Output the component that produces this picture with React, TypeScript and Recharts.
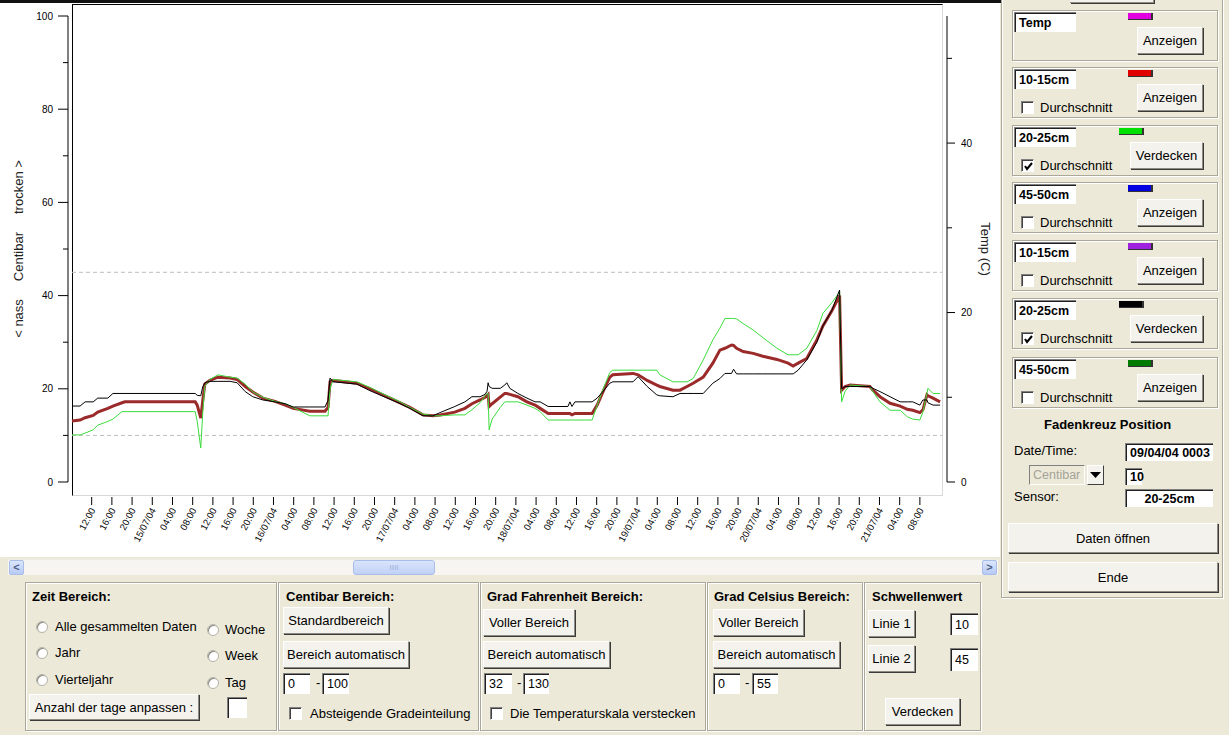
import React from 'react';
import { LineChart, Line, XAxis, YAxis, ReferenceLine } from 'recharts';

// ---------- data (hours since 14/07/04 00:00) ----------
const hours = [8.1, 9.7, 10.7, 12.3, 13.2, 15.2, 16.2, 18.0, 18.6, 32.5, 32.9, 33.6, 34.0, 34.4, 35.4, 37.0, 39.4, 40.8, 42.4, 43.9, 45.9, 48.3, 50.3, 51.9, 55.2, 58.2, 58.8, 59.2, 59.8, 64.5, 67.1, 70.1, 73.1, 75.0, 77.6, 79.6, 81.0, 83.9, 85.9, 87.3, 88.9, 89.9, 90.3, 90.5, 90.7, 91.3, 92.9, 93.8, 94.2, 94.8, 96.4, 98.2, 99.8, 100.8, 102.4, 106.3, 106.7, 107.1, 107.7, 111.1, 112.1, 113.3, 114.6, 115.2, 119.2, 120.2, 122.0, 123.9, 124.5, 127.1, 128.5, 129.9, 131.1, 133.1, 135.0, 136.4, 137.4, 138.7, 139.1, 139.7, 141.0, 143.0, 144.9, 147.7, 149.9, 150.9, 151.9, 153.6, 155.6, 156.8, 158.6, 160.1, 160.5, 161.2, 162.2, 166.1, 166.7, 168.1, 170.1, 172.1, 173.5, 174.6, 176.0, 176.6, 177.4, 177.6, 178.6, 180.0];
const sensorGreen = [10.1, 10.1, 10.5, 11.2, 12.2, 13.0, 13.5, 15.1, 15.1, 15.1, 13.0, 7.3, 15.0, 20.5, 22.0, 23.0, 22.5, 22.3, 21.0, 19.3, 18.2, 17.3, 16.8, 16.0, 14.2, 14.2, 14.2, 20.0, 22.0, 21.5, 20.3, 18.7, 17.2, 16.0, 14.6, 14.2, 14.2, 14.4, 14.4, 15.5, 17.0, 18.5, 19.0, 19.0, 11.2, 13.5, 16.0, 17.2, 17.2, 17.2, 17.2, 16.5, 15.8, 15.1, 13.3, 13.3, 13.3, 13.3, 13.3, 13.3, 16.5, 20.0, 23.5, 24.0, 24.0, 24.0, 24.0, 24.0, 23.0, 21.5, 21.5, 21.5, 22.2, 26.2, 30.5, 33.0, 35.1, 35.1, 35.1, 35.0, 34.0, 32.6, 31.0, 28.7, 27.3, 27.3, 27.3, 28.7, 32.5, 36.2, 38.5, 40.8, 17.2, 19.5, 20.8, 20.5, 19.4, 17.2, 15.4, 15.4, 14.0, 13.5, 13.3, 15.0, 19.0, 20.1, 19.0, 19.0];
const sensorBlack = [16.3, 16.3, 17.2, 17.2, 18.0, 18.0, 19.0, 19.0, 19.0, 19.0, 18.6, 18.5, 20.5, 21.3, 21.6, 21.6, 21.6, 21.3, 19.4, 18.3, 17.6, 17.2, 16.8, 16.1, 16.1, 16.1, 17.5, 22.3, 21.5, 21.0, 19.6, 18.2, 16.8, 15.8, 14.2, 14.2, 14.9, 16.2, 17.2, 18.3, 18.3, 18.8, 19.5, 21.3, 20.5, 20.1, 20.1, 20.8, 21.3, 20.1, 19.0, 18.0, 17.2, 17.2, 16.2, 16.2, 17.2, 16.2, 17.2, 17.2, 18.0, 19.5, 21.2, 21.5, 21.5, 22.6, 20.5, 18.7, 18.5, 18.3, 19.0, 19.0, 19.0, 19.0, 21.2, 22.2, 23.3, 23.3, 24.2, 23.2, 23.2, 23.2, 23.2, 23.2, 23.2, 23.2, 24.0, 26.2, 30.0, 33.5, 36.9, 41.2, 20.0, 20.5, 20.5, 20.5, 20.1, 19.4, 18.3, 17.2, 17.2, 17.2, 16.5, 17.6, 17.6, 17.0, 16.5, 16.5];
const average = [13.1, 13.3, 13.8, 14.3, 15.0, 15.8, 16.3, 17.0, 17.2, 17.2, 16.5, 13.7, 17.5, 21.0, 21.8, 22.5, 22.3, 22.0, 20.5, 19.3, 18.0, 17.3, 16.5, 15.8, 15.2, 15.2, 16.0, 21.5, 21.8, 21.2, 20.0, 18.5, 17.0, 16.0, 14.4, 14.2, 14.4, 15.0, 15.8, 16.8, 17.6, 18.2, 18.6, 18.8, 16.2, 16.8, 18.2, 19.0, 19.0, 18.8, 18.3, 17.2, 16.5, 15.8, 14.7, 14.7, 14.7, 14.4, 14.7, 14.7, 16.5, 19.5, 22.5, 23.0, 23.3, 23.0, 21.8, 20.8, 20.5, 19.7, 19.7, 20.5, 21.2, 22.5, 25.5, 28.3, 28.7, 29.4, 29.3, 28.7, 28.0, 27.6, 27.0, 26.3, 25.5, 24.9, 25.5, 26.5, 30.5, 33.5, 36.8, 40.0, 19.7, 20.5, 20.8, 20.5, 19.7, 18.3, 16.9, 16.3, 15.6, 15.4, 14.9, 15.5, 18.7, 18.5, 18.0, 17.2];

const xTicks = [12, 16, 20, 24, 28, 32, 36, 40, 44, 48, 52, 56, 60, 64, 68, 72, 76, 80, 84, 88, 92, 96, 100, 104, 108, 112, 116, 120, 124, 128, 132, 136, 140, 144, 148, 152, 156, 160, 164, 168, 172, 176];
const xTickLabels = ['12:00', '16:00', '20:00', '15/07/04', '04:00', '08:00', '12:00', '16:00', '20:00', '16/07/04', '04:00', '08:00', '12:00', '16:00', '20:00', '17/07/04', '04:00', '08:00', '12:00', '16:00', '20:00', '18/07/04', '04:00', '08:00', '12:00', '16:00', '20:00', '19/07/04', '04:00', '08:00', '12:00', '16:00', '20:00', '20/07/04', '04:00', '08:00', '12:00', '16:00', '20:00', '21/07/04', '04:00', '08:00'];
const leftTicks = [0, 10, 20, 30, 40, 50, 60, 70, 80, 90, 100];
const leftLabelTicks = [0, 20, 40, 60, 80, 100];
const rightTicks = [0, 10, 20, 30, 40, 50];
const rightLabelTicks = [0, 20, 40];
const thresholds = [10, 45];
const X_DOMAIN: [number, number] = [7.31, 181.37];
const PLOT_SPAN: [number, number] = [8.1, 180.4];
const TEMP_DOMAIN: [number, number] = [0, 55];

const data = hours.map((h, i) => ({ h, g: sensorGreen[i], b: sensorBlack[i], r: average[i] }));
const labelOf = (v: number) => xTickLabels[xTicks.indexOf(v)] ?? '';

const CF = '"Liberation Sans", Arial, sans-serif';

const XTick = (p: any) => {
  const { x, y, payload } = p;
  const ax = x + 4;
  const ay = y + 28;
  return (
    <g>
      <line x1={x} x2={x} y1={y + 15} y2={y + 23} stroke="#000" strokeWidth={1} />
      <text x={ax} y={ay} transform={`rotate(-62 ${ax} ${ay})`} textAnchor="end" fontSize={9.5} fontFamily={CF} fill="#000">
        {labelOf(payload.value)}
      </text>
    </g>
  );
};

const LeftTick = (p: any) => {
  const { x, y, payload } = p;
  const major = leftLabelTicks.includes(payload.value);
  return (
    <g>
      <line x1={x - (major ? 10 : 5)} x2={x} y1={y} y2={y} stroke="#000" strokeWidth={1} />
      {major && (
        <text x={x - 15} y={y + 3.5} textAnchor="end" fontSize={10} fontFamily={CF} fill="#000">
          {payload.value}
        </text>
      )}
    </g>
  );
};

const RightTick = (p: any) => {
  const { x, y, payload } = p;
  const major = rightLabelTicks.includes(payload.value);
  return (
    <g>
      <line x1={x} x2={x + (major ? 8 : 5)} y1={y} y2={y} stroke="#000" strokeWidth={1} />
      {major && (
        <text x={x + 14} y={y + 3.5} textAnchor="start" fontSize={10} fontFamily={CF} fill="#000">
          {payload.value}
        </text>
      )}
    </g>
  );
};

const LeftTitle = (p: any) => {
  const vb = p.viewBox || { x: 0, y: 16, width: 68, height: 466 };
  const cx = vb.x + 23;
  const cy = vb.y + vb.height / 2;
  return (
    <text x={cx} y={cy} transform={`rotate(-90 ${cx} ${cy})`} textAnchor="middle" fontSize={13} fontFamily={CF} fill="#222">
      <tspan>{'< nass'}</tspan>
      <tspan dx={18}>Centibar</tspan>
      <tspan dx={18}>{'trocken >'}</tspan>
    </text>
  );
};

const RightTitle = (p: any) => {
  const vb = p.viewBox || { x: 947, y: 16, width: 53, height: 466 };
  const cx = vb.x + 34;
  const cy = vb.y + vb.height / 2;
  return (
    <text x={cx} y={cy} transform={`rotate(90 ${cx} ${cy})`} textAnchor="middle" fontSize={13} fontFamily={CF} fill="#222">
      Temp (C)
    </text>
  );
};

// ---------- UI helpers ----------
const UI = '"Liberation Sans", Arial, sans-serif';
const abs = (x: number, y: number, w: number, h: number): React.CSSProperties => ({
  position: 'absolute', left: x, top: y, width: w, height: h, boxSizing: 'border-box',
});

const Btn = ({ x, y, w, h, label }: any) => (
  <div style={{
    ...abs(x, y, w, h), background: '#F3F2EC', borderTop: '1px solid #fff', borderLeft: '1px solid #fff',
    borderRight: '1px solid #8E8C80', borderBottom: '1px solid #8E8C80', boxShadow: '1px 1px 0 #3A3A3A',
    display: 'flex', alignItems: 'center', justifyContent: 'center', fontSize: 13, color: '#000', whiteSpace: 'nowrap',
  }}>{label}</div>
);

const Field = ({ x, y, w, h, text, bold, center }: any) => (
  <div style={{
    ...abs(x, y, w, h), background: '#fff', borderTop: '1px solid #808080', borderLeft: '1px solid #808080',
    boxShadow: 'inset 1px 1px 0 #202020', paddingLeft: center ? 0 : 4, fontSize: 12.5,
    fontWeight: bold ? 700 : 400, lineHeight: `${h}px`, textAlign: center ? 'center' : 'left', whiteSpace: 'nowrap', color: '#000',
  }}>{text}</div>
);

const Group = ({ x, y, w, h }: any) => (
  <div style={{ ...abs(x, y, w, h), border: '1px solid #ACA899', boxShadow: 'inset 1px 1px 0 #fff, 1px 1px 0 #fff' }} />
);

const Txt = ({ x, y, text, bold, size, color }: any) => (
  <div style={{ position: 'absolute', left: x, top: y, fontSize: size || 13, fontWeight: bold ? 700 : 400, whiteSpace: 'nowrap', color: color || '#000', lineHeight: '14px' }}>{text}</div>
);

const Radio = ({ x, y }: any) => (
  <div style={{ ...abs(x, y, 12, 12), borderRadius: '50%', background: '#fff', border: '1px solid #B4B2A8', boxShadow: 'inset 1px 1px 0 #8A8880' }} />
);

const Check = ({ x, y, checked }: any) => (
  <div style={{ ...abs(x, y, 13, 13), background: '#fff', borderTop: '1px solid #808080', borderLeft: '1px solid #808080', borderRight: '1px solid #fff', borderBottom: '1px solid #fff', boxShadow: 'inset 1px 1px 0 #404040' }}>
    {checked && (
      <svg width={11} height={11} style={{ position: 'absolute', left: 1, top: 1 }}>
        <polyline points="2,5 4,8 9,2" fill="none" stroke="#000" strokeWidth={2} />
      </svg>
    )}
  </div>
);

const Swatch = ({ x, y, color }: any) => (
  <div style={{ ...abs(x, y, 25, 7), background: color, borderRight: '2px solid #333', borderBottom: '1px solid #333' }} />
);

const sensorGroups = [
  { top: 10, name: 'Temp', color: '#E000E0', sx: 1128, btn: 'Anzeigen', check: false, checked: false },
  { top: 67, name: '10-15cm', color: '#E00000', sx: 1128, btn: 'Anzeigen', check: true, checked: false },
  { top: 125, name: '20-25cm', color: '#00E000', sx: 1119, btn: 'Verdecken', check: true, checked: true },
  { top: 182, name: '45-50cm', color: '#0000E0', sx: 1128, btn: 'Anzeigen', check: true, checked: false },
  { top: 240, name: '10-15cm', color: '#A020E0', sx: 1128, btn: 'Anzeigen', check: true, checked: false },
  { top: 298, name: '20-25cm', color: '#000000', sx: 1119, btn: 'Verdecken', check: true, checked: true },
  { top: 357, name: '45-50cm', color: '#007A00', sx: 1128, btn: 'Anzeigen', check: true, checked: false },
];

export default function App() {
  return (
    <div style={{ position: 'absolute', left: 0, top: 0, width: 1229, height: 735, background: '#ECE9D8', fontFamily: UI, overflow: 'hidden' }}>
      {/* chart area */}
      <div style={{ ...abs(0, 0, 1000, 557), background: '#fff' }} />
      <div style={{ ...abs(0, 0, 1001, 3), background: '#111' }} />
      <div style={{ ...abs(72, 4, 871, 492), borderTop: '1px solid #000', borderLeft: '1px solid #000', borderRight: '1px solid #D8D8D8', borderBottom: '1px solid #D8D8D8' }} />
      <div style={{ position: 'absolute', left: 0, top: 0 }}>
        <LineChart width={1000} height={555} data={data} margin={{ top: 16, right: 0, bottom: 0, left: 0 }}>
          <XAxis dataKey="h" type="number" domain={X_DOMAIN} ticks={xTicks} interval={0} allowDataOverflow
            tickSize={0} tickMargin={0} axisLine={false} tickLine={false} height={73} tick={(p: any) => <XTick {...p} />} />
          <YAxis yAxisId="left" orientation="left" type="number" domain={[0, 100]} ticks={leftTicks} interval={0} width={68}
            allowDataOverflow tickSize={0} tickMargin={0} tickLine={false} axisLine={{ stroke: '#000', strokeWidth: 1 }}
            tick={(p: any) => <LeftTick {...p} />} label={{ content: (p: any) => <LeftTitle {...p} /> }} />
          <YAxis yAxisId="right" orientation="right" type="number" domain={TEMP_DOMAIN} ticks={rightTicks} interval={0} width={53}
            allowDataOverflow tickSize={0} tickMargin={0} tickLine={false} axisLine={{ stroke: '#000', strokeWidth: 1 }}
            tick={(p: any) => <RightTick {...p} />} label={{ content: (p: any) => <RightTitle {...p} /> }} />
          {thresholds.map((t) => (
            <ReferenceLine key={t} yAxisId="left" segment={[{ x: PLOT_SPAN[0], y: t }, { x: PLOT_SPAN[1], y: t }]}
              stroke="#BDBDBD" strokeDasharray="4 3" strokeWidth={1} />
          ))}
          <Line yAxisId="left" dataKey="r" type="linear" stroke="#9B2A2A" strokeWidth={3} dot={false} isAnimationActive={false} />
          <Line yAxisId="left" dataKey="g" type="linear" stroke="#3BDC3B" strokeWidth={1} dot={false} isAnimationActive={false} />
          <Line yAxisId="left" dataKey="b" type="linear" stroke="#000000" strokeWidth={1} dot={false} isAnimationActive={false} />
        </LineChart>
      </div>

      {/* horizontal scrollbar */}
      <div style={{ ...abs(8, 559, 990, 16), background: '#F6F5F1', borderTop: '1px solid #EEEDE5' }} />
      <div style={{ ...abs(9, 560, 15, 15), background: 'linear-gradient(#DCE6FD,#B7CAF5)', border: '1px solid #A9BDEA', borderRadius: 2, color: '#4D6185', fontSize: 11, fontWeight: 700, lineHeight: '13px', textAlign: 'center' }}>{'<'}</div>
      <div style={{ ...abs(982, 560, 15, 15), background: 'linear-gradient(#DCE6FD,#B7CAF5)', border: '1px solid #A9BDEA', borderRadius: 2, color: '#4D6185', fontSize: 11, fontWeight: 700, lineHeight: '13px', textAlign: 'center' }}>{'>'}</div>
      <div style={{ ...abs(353, 560, 82, 15), background: 'linear-gradient(#D9E4FC,#C0D1F6)', border: '1px solid #A9BDEA', borderRadius: 3, color: '#9DB0DA', fontSize: 8, lineHeight: '13px', textAlign: 'center' }}>IIII</div>

      {/* Zeit Bereich */}
      <Group x={25} y={582} w={252} h={149} />
      <Txt x={32} y={590} text="Zeit Bereich:" bold />
      <Radio x={36} y={621} /><Txt x={55} y={620} text="Alle gesammelten Daten" />
      <Radio x={36} y={647} /><Txt x={55} y={646} text="Jahr" />
      <Radio x={36} y={674} /><Txt x={55} y={673} text="Vierteljahr" />
      <Radio x={207} y={624} /><Txt x={225} y={623} text="Woche" />
      <Radio x={207} y={650} /><Txt x={225} y={649} text="Week" />
      <Radio x={207} y={677} /><Txt x={225} y={676} text="Tag" />
      <Btn x={29} y={694} w={170} h={26} label="Anzahl der tage anpassen :" />
      <Field x={227} y={697} w={20} h={21} text="" />

      {/* Centibar Bereich */}
      <Group x={278} y={582} w={201} h={149} />
      <Txt x={286} y={590} text="Centibar Bereich:" bold />
      <Btn x={283} y={607} w={106} h={27} label="Standardbereich" />
      <Btn x={283} y={641} w={126} h={27} label="Bereich automatisch" />
      <Field x={283} y={673} w={27} h={21} text="0" />
      <Txt x={316} y={676} text="-" />
      <Field x={322} y={673} w={27} h={21} text="100" />
      <Check x={289} y={707} /><Txt x={310} y={707} text="Absteigende Gradeinteilung" />

      {/* Grad Fahrenheit */}
      <Group x={480} y={582} w={226} h={149} />
      <Txt x={487} y={590} text="Grad Fahrenheit Bereich:" bold />
      <Btn x={483} y={609} w={92} h={27} label="Voller Bereich" />
      <Btn x={483} y={641} w={127} h={27} label="Bereich automatisch" />
      <Field x={484} y={673} w={28} h={21} text="32" />
      <Txt x={517} y={676} text="-" />
      <Field x={523} y={673} w={26} h={21} text="130" />
      <Check x={490} y={707} /><Txt x={510} y={707} text="Die Temperaturskala verstecken" />

      {/* Grad Celsius */}
      <Group x={707} y={582} w={156} h={149} />
      <Txt x={714} y={590} text="Grad Celsius Bereich:" bold />
      <Btn x={713} y={609} w={91} h={27} label="Voller Bereich" />
      <Btn x={713} y={641} w={127} h={27} label="Bereich automatisch" />
      <Field x={713} y={673} w={27} h={21} text="0" />
      <Txt x={745} y={676} text="-" />
      <Field x={752} y={673} w={26} h={21} text="55" />

      {/* Schwellenwert */}
      <Group x={864} y={582} w={117} h={149} />
      <Txt x={872} y={590} text="Schwellenwert" bold />
      <Btn x={868} y={610} w={47} h={27} label="Linie 1" />
      <Field x={950} y={613} w={28} h={22} text="10" />
      <Btn x={868} y={645} w={47} h={27} label="Linie 2" />
      <Field x={950} y={648} w={28} h={23} text="45" />
      <Btn x={885} y={698} w={75} h={27} label="Verdecken" />

      {/* right panel */}
      <div style={{ ...abs(1001, -2, 222, 600), border: '1px solid #ACA899', boxShadow: 'inset 1px 1px 0 #fff, 1px 1px 0 #fff' }} />
      <div style={{ ...abs(1070, -20, 84, 23), background: '#F3F2EC', borderRight: '1px solid #8E8C80', borderBottom: '1px solid #8E8C80', boxShadow: '1px 1px 0 #3A3A3A' }} />
      {sensorGroups.map((g, i) => (
        <React.Fragment key={i}>
          <Group x={1012} y={g.top} w={206} h={51} />
          <Field x={1014} y={g.top + 2} w={62} h={20} text={g.name} bold />
          <Swatch x={g.sx} y={g.top + 3} color={g.color} />
          {g.btn === 'Anzeigen'
            ? <Btn x={1137} y={g.top + 17} w={66} h={27} label="Anzeigen" />
            : <Btn x={1130} y={g.top + 17} w={73} h={27} label="Verdecken" />}
          {g.check && (
            <>
              <Check x={1021} y={g.top + 34} checked={g.checked} />
              <Txt x={1040} y={g.top + 34} text="Durchschnitt" />
            </>
          )}
        </React.Fragment>
      ))}
      <Txt x={1044} y={418} text="Fadenkreuz Position" bold />
      <Txt x={1014} y={444} text="Date/Time:" />
      <Field x={1125} y={443} w={88} h={18} text="09/04/04  0003" bold />
      <div style={{ ...abs(1029, 465, 56, 20), background: '#ECE9D8', borderTop: '1px solid #808080', borderLeft: '1px solid #808080', borderRight: '1px solid #fff', borderBottom: '1px solid #fff', color: '#A5A398', fontSize: 12.5, lineHeight: '18px', paddingLeft: 3 }}>Centibar</div>
      <div style={{ ...abs(1087, 465, 17, 20), background: '#F3F2EC', borderTop: '1px solid #fff', borderLeft: '1px solid #fff', borderRight: '1px solid #404040', borderBottom: '1px solid #404040' }}>
        <svg width={15} height={18} style={{ position: 'absolute', left: 0, top: 0 }}><polygon points="2,6 13,6 7.5,12" fill="#000" /></svg>
      </div>
      <Field x={1125} y={468} w={17} h={17} text="10" bold />
      <Txt x={1014} y={490} text="Sensor:" />
      <Field x={1125} y={489} w={88} h={18} text="20-25cm" bold center />
      <Btn x={1008} y={523} w={210} h={30} label="Daten öffnen" />
      <Btn x={1008} y={562} w={210} h={30} label="Ende" />
    </div>
  );
}
